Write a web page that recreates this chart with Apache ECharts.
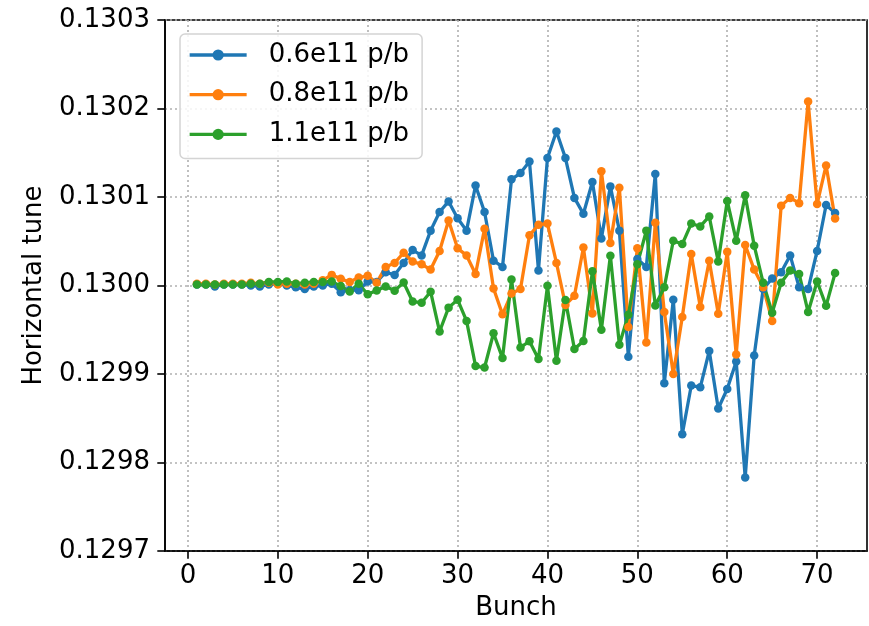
<!DOCTYPE html>
<html>
<head>
<meta charset="utf-8">
<script src="https://cdn.jsdelivr.net/npm/echarts@6/dist/echarts.min.js"></script>
<style>
html,body{margin:0;padding:0;background:#fff;}
#chart{width:869px;height:626px;}
</style>
</head>
<body>
<div id="chart"></div>
<script>
const bunches = [1,2,3,4,5,6,7,8,9,10,11,12,13,14,15,16,17,18,19,20,21,22,23,24,25,26,27,28,29,30,31,32,33,34,35,36,
  37,38,39,40,41,42,43,44,45,46,47,48,49,50,51,52,53,54,55,56,57,58,59,60,61,62,63,64,65,66,67,68,69,70,71,72];

const xTicks = [0,10,20,30,40,50,60,70];
const yTicks = [0.1297,0.1298,0.1299,0.1300,0.1301,0.1302,0.1303];

const seriesNames = ['0.6e11 p/b','0.8e11 p/b','1.1e11 p/b'];

const tune06 = [0.130001,0.130001,0.129999,0.130001,0.130001,0.130001,0.130000,0.129999,0.130001,0.130002,
  0.130000,0.129998,0.129996,0.129999,0.130000,0.130002,0.1299925,0.129995,0.1299945,0.1300045,
  0.130004,0.130015,0.130012,0.1300255,0.130040,0.130034,0.130062,0.130083,0.130095,0.130076,
  0.130062,0.130113,0.130083,0.130028,0.130021,0.130120,0.130127,0.130140,0.130017,0.130144,
  0.130174,0.130144,0.130099,0.130081,0.130117,0.130053,0.130112,0.130062,0.1299195,0.130030,
  0.130021,0.130126,0.1298895,0.129984,0.129832,0.129887,0.129885,0.129926,0.129861,0.129883,
  0.129914,0.129783,0.129921,0.129996,0.130008,0.130015,0.130034,0.129998,0.129996,0.130039,
  0.130091,0.130082];

const tune08 = [0.130002,0.130002,0.130001,0.130002,0.130002,0.130002,0.130003,0.130002,0.130003,0.130001,
  0.130002,0.130002,0.130001,0.130002,0.130006,0.130012,0.1300075,0.130004,0.130009,0.130011,
  0.130003,0.130021,0.1300255,0.130037,0.130027,0.130024,0.130018,0.130039,0.1300735,0.130042,
  0.130034,0.130013,0.130064,0.1299966,0.1299674,0.129991,0.129996,0.1300567,0.1300687,0.130070,
  0.1300255,0.129978,0.1299884,0.130043,0.1299685,0.130129,0.130048,0.1301105,0.129953,0.130042,
  0.1299356,0.130071,0.129970,0.129900,0.1299644,0.1300356,0.1299757,0.130028,0.1299682,0.130038,
  0.129922,0.1300457,0.130018,0.129998,0.129960,0.130090,0.130099,0.130093,0.130208,0.130092,
  0.1301356,0.1300757];

const tune11 = [0.130001,0.130001,0.130001,0.130001,0.130001,0.130001,0.130002,0.130002,0.130004,0.130004,
  0.1300045,0.130002,0.130003,0.130004,0.130004,0.1300045,0.1299993,0.1299933,0.130002,0.129990,
  0.1299944,0.129999,0.1299942,0.1300034,0.129982,0.1299805,0.129993,0.129948,0.129975,0.129984,
  0.129960,0.129909,0.1299073,0.129946,0.129918,0.1300068,0.129930,0.129937,0.129917,0.1299996,
  0.129915,0.1299835,0.1299283,0.1299373,0.130016,0.129950,0.1300337,0.129933,0.129967,0.130024,
  0.130062,0.1299775,0.129998,0.1300506,0.1300468,0.130070,0.1300667,0.130078,0.130027,0.1300955,
  0.1300506,0.130102,0.130045,0.130003,0.1299693,0.130003,0.1300169,0.130013,0.129970,0.1300045,
  0.129977,0.130014];

const colors = ['#1f77b4','#ff7f0e','#2ca02c'];
const FONT = 'DejaVu Sans';

function pairs(vals){ return bunches.map((b,i)=>[b, vals[i]]); }

const chart = echarts.init(document.getElementById('chart'), null, {renderer:'canvas'});
const allData = [tune06, tune08, tune11];

chart.setOption({
  animation: false,
  backgroundColor: '#ffffff',
  color: colors,
  grid: {left:165, right:2, top:20, bottom:72, containLabel:false,
         show:true, borderColor:'#000', borderWidth:1.6, backgroundColor:'transparent'},
  legend: {
    orient:'vertical', left:180, top:34,
    padding:[7,13,10,8],
    backgroundColor:'rgba(255,255,255,0.85)',
    borderColor:'#d4d4d4', borderWidth:1.5, borderRadius:5,
    itemWidth:57, itemHeight:14, itemGap:11.7,
    lineStyle:{width:3.3},
    textStyle:{fontFamily:FONT, fontSize:26, color:'#000', lineHeight:28, padding:[0,0,0,17]},
    data: seriesNames
  },
  xAxis: {
    type:'value', min:-2.55, max:75.55,
    name:'Bunch', nameLocation:'middle', nameGap:44,
    nameTextStyle:{fontFamily:FONT, fontSize:26, color:'#000'},
    axisLine:{show:true, onZero:false, lineStyle:{color:'#000', width:1.6}},
    axisTick:{show:true, length:7.7, customValues:xTicks, lineStyle:{color:'#000', width:1.6}},
    axisLabel:{customValues:xTicks, fontFamily:FONT, fontSize:26, color:'#000', margin:12},
    splitLine:{show:true, lineStyle:{color:'#b0b0b0', type:[2,3], width:1.6}}
  },
  yAxis: {
    type:'value', min:0.1297, max:0.1303, interval:0.0001,
    name:'Horizontal tune', nameLocation:'middle', nameGap:118, nameRotate:90,
    nameTextStyle:{fontFamily:FONT, fontSize:26, color:'#000'},
    axisLine:{show:true, onZero:false, lineStyle:{color:'#000', width:1.6}},
    axisTick:{show:true, length:7.7, lineStyle:{color:'#000', width:1.6}},
    axisLabel:{fontFamily:FONT, fontSize:26, color:'#000', margin:15,
               formatter:(v)=>v.toFixed(4)},
    splitLine:{show:true, lineStyle:{color:'#b0b0b0', type:[2,3], width:1.6}}
  },
  series: seriesNames.map((n,i)=>({
    name:n, type:'line', data:pairs(allData[i]),
    symbol:'circle', symbolSize:8.5, showSymbol:true,
    lineStyle:{width:3.3, color:colors[i]},
    itemStyle:{color:colors[i]},
    emphasis:{disabled:true}
  }))
});
</script>
</body>
</html>
